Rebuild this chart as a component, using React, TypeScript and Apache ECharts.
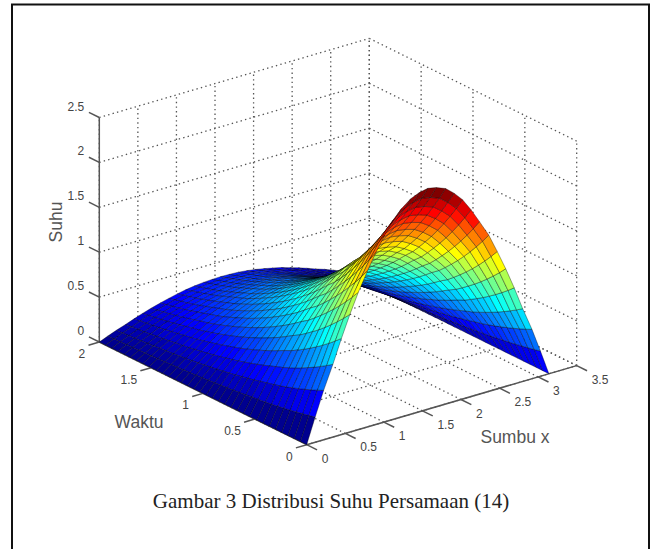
import React, { useEffect, useRef } from "react";
import * as echarts from "echarts";

// Grid of the surface.
const xValues = [0, 0.11, 0.22, 0.34, 0.45, 0.56, 0.67, 0.79, 0.9, 1.01, 1.12, 1.23, 1.35, 1.46, 1.57, 1.68, 1.8, 1.91, 2.02, 2.13, 2.24, 2.36, 2.47, 2.58, 2.69, 2.8, 2.92, 3.03, 3.14];
const tValues = [0, 0.06, 0.12, 0.18, 0.24, 0.3, 0.36, 0.42, 0.48, 0.55, 0.61, 0.67, 0.73, 0.79, 0.85, 0.91, 0.97, 1.03, 1.09, 1.15, 1.21, 1.27, 1.33, 1.39, 1.45, 1.52, 1.58, 1.64, 1.7, 1.76, 1.82, 1.88, 1.94, 2];
// Height of the front arch (Waktu = 0) at each xValues entry.
const frontArch = [0, 0.28, 0.55, 0.81, 1.07, 1.31, 1.53, 1.74, 1.92, 2.08, 2.22, 2.32, 2.4, 2.44, 2.46, 2.44, 2.4, 2.32, 2.22, 2.08, 1.92, 1.74, 1.53, 1.31, 1.07, 0.81, 0.55, 0.28, 0];
// Share of the front arch left at each tValues entry (back arch about 0.33 high).
const archShare = [1, 0.941, 0.886, 0.834, 0.785, 0.739, 0.696, 0.655, 0.616, 0.58, 0.546, 0.513, 0.483, 0.455, 0.428, 0.403, 0.379, 0.357, 0.336, 0.316, 0.298, 0.28, 0.264, 0.248, 0.234, 0.22, 0.207, 0.195, 0.183, 0.172, 0.162, 0.153, 0.144, 0.135];

const xTicks = [0, 0.5, 1, 1.5, 2, 2.5, 3, 3.5];
const xTickLabels = ["0", "0.5", "1", "1.5", "2", "2.5", "3", "3.5"];
const tTicks = [0, 0.5, 1, 1.5, 2];
const tTickLabels = ["0", "0.5", "1", "1.5", "2"];
const zTicks = [0, 0.5, 1, 1.5, 2, 2.5];
const zTickLabels = ["0", "0.5", "1", "1.5", "2", "2.5"];

const xTitle = "Sumbu x";
const tTitle = "Waktu";
const zTitle = "Suhu";
const caption = "Gambar 3 Distribusi Suhu Persamaan (14)";

const W = 657;
const H = 549;
const xMax = 3.5;
const tMax = 2;
const zMax = 2.5;

// The 3D view: an orthographic projection onto page units.
const project = (x: number, t: number, z: number): number[] => [
  306.7 + 77.14 * x - 103.7 * t,
  444.7 - 22.6 * x - 51.35 * t - 89.8 * z,
];
const depth = (x: number, t: number, z: number) => 103.7 * x + 77.14 * t - 70.2 * z;

const height = (i: number, j: number) => frontArch[i] * archShare[j];
const zTop = Math.max(...frontArch);

const jet = (z: number) => {
  const level = Math.min(63, Math.floor((z / zTop) * 64));
  const v = (level + 1) / 64;
  const c = (d: number) => Math.round(255 * Math.max(0, Math.min(1, 1.5 - Math.abs(4 * v - d))));
  return `rgb(${c(3)},${c(2)},${c(1)})`;
};

const cells: number[][] = [];
for (let i = 0; i < xValues.length - 1; i++) {
  for (let j = 0; j < tValues.length - 1; j++) {
    const d =
      (depth(xValues[i], tValues[j], height(i, j)) +
        depth(xValues[i + 1], tValues[j], height(i + 1, j)) +
        depth(xValues[i + 1], tValues[j + 1], height(i + 1, j + 1)) +
        depth(xValues[i], tValues[j + 1], height(i, j + 1))) / 4;
    cells.push([i, j, d]);
  }
}
cells.sort((a, b) => b[2] - a[2]);

const gridSegments: number[][] = [];
for (const x of xTicks) {
  gridSegments.push([x, 0, 0, x, tMax, 0]);
  gridSegments.push([x, tMax, 0, x, tMax, zMax]);
}
for (const t of tTicks) {
  gridSegments.push([0, t, 0, xMax, t, 0]);
  gridSegments.push([xMax, t, 0, xMax, t, zMax]);
}
for (const z of zTicks) {
  gridSegments.push([0, tMax, z, xMax, tMax, z]);
  gridSegments.push([xMax, tMax, z, xMax, 0, z]);
}

const axisSegments: number[][] = [
  [0, 0, 0, xMax, 0, 0],
  [0, 0, 0, 0, tMax, 0],
  [0, tMax, 0, 0, tMax, zMax],
];
for (const x of xTicks) axisSegments.push([x, 0, 0, x, -0.1, 0]);
for (const t of tTicks) axisSegments.push([0, t, 0, -0.14, t, 0]);
for (const z of zTicks) axisSegments.push([0, tMax, z, 0, tMax + 0.1, z]);

type Api = { value: (i: number) => number; coord: (p: number[]) => number[] };

const segmentSeries = (data: number[][], style: Record<string, unknown>) => ({
  type: "custom",
  silent: true,
  clip: false,
  data,
  renderItem: (_: unknown, api: Api) => {
    const a = api.coord(project(api.value(0), api.value(1), api.value(2)));
    const b = api.coord(project(api.value(3), api.value(4), api.value(5)));
    return {
      type: "line",
      shape: { x1: a[0], y1: a[1], x2: b[0], y2: b[1] },
      style: { fill: null, ...style },
    };
  },
});

const labelSeries = (
  ticks: number[],
  labels: string[],
  at: (v: number) => number[],
  dx: number,
  dy: number,
  align: string,
) => ({
  type: "custom",
  silent: true,
  clip: false,
  data: ticks.map((v, k) => [v, k]),
  renderItem: (_: unknown, api: Api) => {
    const p = at(api.value(0));
    const c = api.coord(project(p[0], p[1], p[2]));
    return {
      type: "text",
      style: {
        x: c[0] + dx,
        y: c[1] + dy,
        text: labels[api.value(1)],
        textAlign: align,
        textVerticalAlign: "middle",
        fontFamily: "Liberation Sans",
        fontSize: 12,
        fill: "#444",
      },
    };
  },
});

const surfaceSeries = {
  type: "custom",
  silent: true,
  clip: false,
  data: cells,
  renderItem: (_: unknown, api: Api) => {
    const i = api.value(0);
    const j = api.value(1);
    const corner = (a: number, b: number) =>
      api.coord(project(xValues[a], tValues[b], height(a, b)));
    return {
      type: "polygon",
      shape: { points: [corner(i, j), corner(i + 1, j), corner(i + 1, j + 1), corner(i, j + 1)] },
      style: { fill: jet(height(i, j)), stroke: "rgba(0,0,0,0.7)", lineWidth: 0.5 },
    };
  },
};

const titleStyle = { fontFamily: "Liberation Sans", fontSize: 17.5, fill: "#555", textAlign: "center", textVerticalAlign: "middle" };

export default function App() {
  const ref = useRef<HTMLDivElement>(null);
  useEffect(() => {
    const chart = echarts.init(ref.current!, null, { renderer: "svg" });
    chart.setOption({
      animation: false,
      backgroundColor: "#fff",
      grid: { left: 0, right: 0, top: 0, bottom: 0 },
      xAxis: { type: "value", min: 0, max: W, show: false },
      yAxis: { type: "value", min: 0, max: H, inverse: true, show: false },
      series: [
        segmentSeries(gridSegments, { stroke: "#555", lineWidth: 1.3, lineDash: [1.4, 3.2] }),
        segmentSeries(axisSegments, { stroke: "#555", lineWidth: 1.5 }),
        labelSeries(xTicks, xTickLabels, (v) => [v, 0, 0], 15, 14, "left"),
        labelSeries(tTicks, tTickLabels, (v) => [0, v, 0], -14, 12, "right"),
        labelSeries(zTicks, zTickLabels, (v) => [0, tMax, v], -15, -11, "right"),
        surfaceSeries,
      ],
      graphic: [
        {
          type: "polyline",
          silent: true,
          shape: { points: [[12, H], [12, 4.5], [649, 4.5], [649, H]] },
          style: { fill: null, stroke: "#111", lineWidth: 2 },
        },
        { type: "text", silent: true, x: 515, y: 437, style: { text: xTitle, ...titleStyle } },
        { type: "text", silent: true, x: 139, y: 422, style: { text: tTitle, ...titleStyle } },
        { type: "text", silent: true, x: 56, y: 222, rotation: Math.PI / 2, style: { text: zTitle, ...titleStyle } },
        {
          type: "text",
          silent: true,
          x: 331,
          y: 501,
          style: { text: caption, fontFamily: "Liberation Serif", fontSize: 21, fill: "#222", textAlign: "center", textVerticalAlign: "middle" },
        },
      ],
    });
    return () => chart.dispose();
  }, []);
  return <div ref={ref} style={{ position: "absolute", left: 0, top: 0, width: W, height: H }} />;
}
